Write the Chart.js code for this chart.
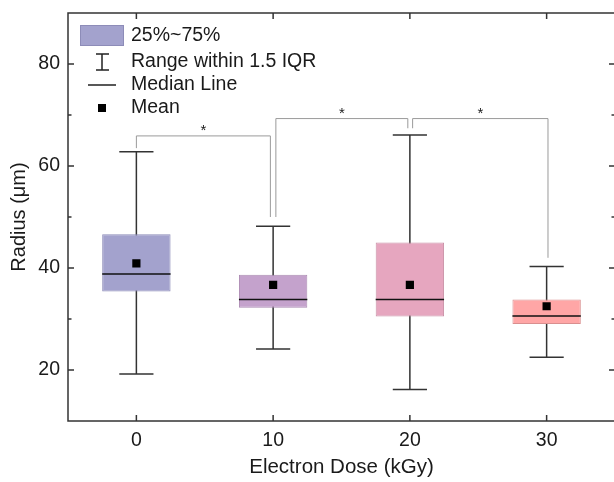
<!DOCTYPE html>
<html>
<head>
<meta charset="utf-8">
<script src="https://cdn.jsdelivr.net/npm/chart.js@4.4.1/dist/chart.umd.min.js"></script>
<style>
  html, body { margin: 0; padding: 0; background: #fff; overflow: hidden; }
  #wrap { width: 622px; height: 482px; }
</style>
</head>
<body>
<div id="wrap"><canvas id="boxes" width="622" height="482"></canvas></div>
<script>
// data
const doses = ['0', '10', '20', '30'];
const whiskerLow = [19.2, 24.1, 16.2, 22.5];
const q1 = [35.4, 32.2, 30.5, 29.0];
const median = [38.8, 33.8, 33.8, 30.6];
const q3 = [46.6, 38.7, 45.0, 33.8];
const whiskerHigh = [62.8, 48.2, 66.1, 40.3];
const means = [40.9, 36.7, 36.7, 32.5];
const yTickValues = [20, 40, 60, 80];
const yMinorValues = [30, 50, 70];

// significance brackets (dose units / radius units)
const bracketFrom = [0, 10.2, 20.2];
const bracketTo = [9.8, 19.85, 30.1];
const bracketTop = [65.9, 69.3, 69.3];
const bracketLeftEnd = [63.5, 50.0, 67.4];
const bracketRightEnd = [50.0, 67.4, 42.0];
const bracketMark = ['*', '*', '*'];

const legendLabels = ['25%~75%', 'Range within 1.5 IQR', 'Median Line', 'Mean'];

const boxFill = ['#a3a2cd', '#c4a2cc', '#e6a6bf', '#ffa6a6'];
const boxEdge = ['#8d8cb8', '#ab8ab3', '#c990a6', '#d98f8f'];
const FONT = '"Liberation Sans", Arial, sans-serif';
const INK = '#1a1a1a';

const boxRange = q1.map((v, i) => [v, q3[i]]);

// dose -> category index (categories are 10 kGy apart)
const xPix = (chart, dose) => chart.scales.x.getPixelForValue(dose / 10);

const boxExtras = {
    id: 'boxExtras',
    beforeDatasetsDraw(chart) {
        const ctx = chart.ctx;
        const x = chart.scales.x, y = chart.scales.y;
        const half = chart.getDatasetMeta(0).data[0].width / 2;
        ctx.save();
        ctx.strokeStyle = '#333';
        ctx.lineWidth = 1.5;
        doses.forEach((d, i) => {
            const cx = x.getPixelForValue(i);
            const capHalf = half / 2;
            ctx.beginPath();
            ctx.moveTo(cx, y.getPixelForValue(whiskerHigh[i]));
            ctx.lineTo(cx, y.getPixelForValue(whiskerLow[i]));
            for (const v of [whiskerHigh[i], whiskerLow[i]]) {
                const py = y.getPixelForValue(v);
                ctx.moveTo(cx - capHalf, py);
                ctx.lineTo(cx + capHalf, py);
            }
            ctx.stroke();
        });
        ctx.restore();
    },
    afterDatasetsDraw(chart) {
        const ctx = chart.ctx;
        const x = chart.scales.x, y = chart.scales.y;
        const half = chart.getDatasetMeta(0).data[0].width / 2;
        ctx.save();
        // medians
        ctx.strokeStyle = '#111';
        ctx.lineWidth = 1.5;
        doses.forEach((d, i) => {
            const cx = x.getPixelForValue(i);
            const py = y.getPixelForValue(median[i]);
            ctx.beginPath();
            ctx.moveTo(cx - half, py);
            ctx.lineTo(cx + half, py);
            ctx.stroke();
        });
        // brackets
        ctx.strokeStyle = '#9a9a9a';
        ctx.lineWidth = 1;
        ctx.fillStyle = INK;
        ctx.font = '15px ' + FONT;
        ctx.textAlign = 'center';
        ctx.textBaseline = 'alphabetic';
        bracketFrom.forEach((f, i) => {
            const x1 = xPix(chart, f), x2 = xPix(chart, bracketTo[i]);
            const top = y.getPixelForValue(bracketTop[i]);
            ctx.beginPath();
            ctx.moveTo(x1, y.getPixelForValue(bracketLeftEnd[i]));
            ctx.lineTo(x1, top);
            ctx.lineTo(x2, top);
            ctx.lineTo(x2, y.getPixelForValue(bracketRightEnd[i]));
            ctx.stroke();
            ctx.fillText(bracketMark[i], (x1 + x2) / 2, top - 1);
        });
        ctx.restore();
    },
    afterDraw(chart) {
        const ctx = chart.ctx;
        const a = chart.chartArea;
        const x = chart.scales.x, y = chart.scales.y;
        ctx.save();
        ctx.strokeStyle = '#333';
        ctx.lineWidth = 1.5;
        ctx.strokeRect(a.left, a.top, a.right - a.left, a.bottom - a.top);
        ctx.beginPath();
        const major = 6, minor = 3.5;
        yTickValues.forEach(v => {
            const py = y.getPixelForValue(v);
            ctx.moveTo(a.left, py); ctx.lineTo(a.left + major, py);
            ctx.moveTo(a.right, py); ctx.lineTo(a.right - major, py);
        });
        yMinorValues.forEach(v => {
            const py = y.getPixelForValue(v);
            ctx.moveTo(a.left, py); ctx.lineTo(a.left + minor, py);
            ctx.moveTo(a.right, py); ctx.lineTo(a.right - minor, py);
        });
        doses.forEach((d, i) => {
            const px = x.getPixelForValue(i);
            ctx.moveTo(px, a.bottom); ctx.lineTo(px, a.bottom - major);
            ctx.moveTo(px, a.top); ctx.lineTo(px, a.top + major);
        });
        ctx.stroke();

        // legend
        ctx.fillStyle = boxFill[0];
        ctx.fillRect(80, 25, 44, 20);
        ctx.strokeStyle = boxEdge[0];
        ctx.lineWidth = 1;
        ctx.strokeRect(80.5, 25.5, 43, 20);
        ctx.strokeStyle = '#222';
        ctx.lineWidth = 1.5;
        ctx.beginPath();
        ctx.moveTo(102, 54); ctx.lineTo(102, 70);
        ctx.moveTo(96, 54); ctx.lineTo(109, 54);
        ctx.moveTo(96, 70); ctx.lineTo(109, 70);
        ctx.moveTo(88, 85); ctx.lineTo(116, 85);
        ctx.stroke();
        ctx.fillStyle = '#000';
        ctx.fillRect(98, 104, 8, 8);
        ctx.fillStyle = INK;
        ctx.font = '19.5px ' + FONT;
        ctx.textAlign = 'left';
        ctx.textBaseline = 'middle';
        const rows = [36, 62, 85, 108];
        legendLabels.forEach((t, i) => ctx.fillText(t, 131, rows[i]));
        ctx.restore();
    }
};

new Chart(document.getElementById('boxes'), {
    type: 'bar',
    data: {
        labels: doses,
        datasets: [{
            label: '25%~75%',
            data: boxRange,
            backgroundColor: boxFill,
            borderColor: boxEdge,
            borderWidth: 1,
            borderSkipped: false,
            categoryPercentage: 1,
            barPercentage: 0.5,
            order: 2
        }, {
            type: 'line',
            label: 'Mean',
            data: means,
            showLine: false,
            pointStyle: 'rect',
            pointRadius: 5.8,
            pointBackgroundColor: '#000',
            pointBorderWidth: 0,
            order: 1
        }]
    },
    options: {
        responsive: false,
        animation: false,
        layout: { padding: { top: 13, right: 7, left: 0, bottom: 0 } },
        plugins: { legend: { display: false }, tooltip: { enabled: false } },
        scales: {
            x: {
                grid: { display: false, drawTicks: false },
                border: { display: false },
                ticks: { color: INK, font: { family: FONT, size: 19.5 }, padding: 8 },
                title: { display: true, text: 'Electron Dose (kGy)', color: INK,
                    font: { family: FONT, size: 20.5 }, padding: { top: 0, bottom: 2 } },
                afterFit: s => { s.height = 61; s.paddingLeft = 0; s.paddingRight = 0; }
            },
            y: {
                min: 10,
                max: 90,
                grid: { display: false, drawTicks: false },
                border: { display: false },
                afterBuildTicks: s => { s.ticks = yTickValues.map(v => ({ value: v })); },
                ticks: { color: INK, font: { family: FONT, size: 19.5 }, padding: 8 },
                title: { display: true, text: 'Radius (μm)', color: INK,
                    font: { family: FONT, size: 20 }, padding: { top: 7, bottom: 0 } },
                afterFit: s => { s.width = 68; s.paddingTop = 0; s.paddingBottom = 0; }
            }
        }
    },
    plugins: [boxExtras]
});
</script>
</body>
</html>
